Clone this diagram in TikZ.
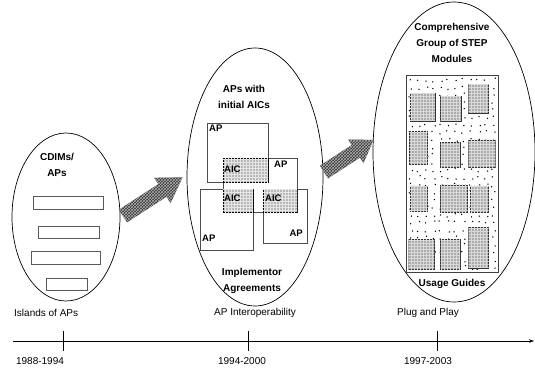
\documentclass[tikz,border=0pt]{standalone}
\usepackage{fontspec}
\setmainfont{Liberation Sans}
\usetikzlibrary{patterns,arrows.meta}
\begin{document}
\begin{tikzpicture}[x=1pt,y=-1pt,
  stage/.style={draw=black,line width=0.7pt},
  smallbox/.style={draw=black!65,line width=0.6pt},
  apbox/.style={draw=black!70,line width=0.6pt},
  aicbox/.style={draw=black,line width=0.9pt,fill=gray!55,
    postaction={pattern=grid,pattern color=gray!20}},
  module/.style={draw=black!80,line width=0.6pt,fill=gray!65,
    postaction={pattern=grid,pattern color=gray!30}},
  blockarrow/.style={fill=black!80,
    postaction={pattern=crosshatch,pattern color=gray!60}},
  title/.style={font=\bfseries\fontsize{10}{16}\selectfont,align=center,inner sep=0pt},
  tag/.style={font=\bfseries\fontsize{9.5}{10}\selectfont,inner sep=1pt},
  era/.style={font=\fontsize{10}{11}\selectfont,inner sep=0pt},
  year/.style={font=\fontsize{10}{11}\selectfont,inner sep=0pt},
  axis/.style={line width=0.6pt,-{Stealth[length=5pt,width=3.5pt]}},
  tick/.style={line width=0.6pt}]
\useasboundingbox (0,0) rectangle (535,369);

% ---- stage 1: islands of APs ----
\draw[stage] (66,217) ellipse [x radius=54pt, y radius=84pt];
\node[title] (t1) at (57,165) {CDIMs/\\APs};
\draw[smallbox] (33,196) rectangle (103,209);
\draw[smallbox] (38,226) rectangle (99,238);
\draw[smallbox] (31,251) rectangle (100,264);
\draw[smallbox] (46,278) rectangle (87,290);

% ---- stage 2: AP interoperability ----
\draw[stage] (255,177) ellipse [x radius=68pt, y radius=129pt];
\node[title] (t2) at (244,97) {APs with\\initial AICs};
\draw[apbox] (207,123) rectangle (268,182);
\draw[apbox] (223,158) rectangle (297,212);
\draw[apbox] (200,189) rectangle (253,250);
\draw[apbox] (263,189) rectangle (307,243);
\draw[aicbox] (223,158) rectangle (268,182);
\draw[aicbox] (223,189) rectangle (253,212);
\draw[aicbox] (263,189) rectangle (297,212);
\node[tag,anchor=north west] (ap1) at (208,124) {AP};
\node[tag,anchor=north west] (ap2) at (273,160) {AP};
\node[tag,anchor=south west] (ap3) at (201,243) {AP};
\node[tag,anchor=south east] (ap4) at (304,238) {AP};
\node[tag,anchor=west] (aic1) at (223,169) {AIC};
\node[tag,anchor=west] (aic2) at (223,198) {AIC};
\node[tag,anchor=west] (aic3) at (264,198) {AIC};
\node[title] (impl) at (252,281) {Implementor\\Agreements};

% ---- stage 3: plug and play ----
\draw[stage] (454,152) ellipse [x radius=81pt, y radius=150pt];
\node[title] (t3) at (452,43) {Comprehensive\\Group of STEP\\Modules};
\draw[black!75,line width=0.6pt] (406,75) rectangle (498,272);
% stippled background: one jittered dot per grid cell
\pgfmathsetseed{12}
\foreach \gx in {0,...,11}{
  \foreach \gy in {0,...,25}{
    \pgfmathsetmacro\px{409+7.5*\gx+4*rnd}
    \pgfmathsetmacro\py{78+7.5*\gy+4*rnd}
    \fill (\px,\py) circle [radius=0.75pt];
  }
}
\foreach \a/\b/\c/\d in {410.1/93.5/434.8/120.9, 440.5/96.3/460.8/120.9, 468.6/84/488.5/112.8,
  409.4/131.6/427.6/164.5, 440.5/142.7/460.1/167.4, 468.6/139.8/495.3/167.4,
  410.1/185.8/427.6/211.3, 440.5/184.9/467.5/212.5, 470/185.8/488.5/212.5,
  408.4/239.1/434.4/269.5, 440.5/239.1/460.1/269.5, 468.6/227.7/488.5/267.9}
  \draw[module] (\a,\b) rectangle (\c,\d);
\node[title] (usage) at (452,284) {Usage Guides};

% ---- block arrows between stages ----
\begin{scope}[shift={(123,216)}, rotate=33]
  \path[blockarrow] (0,-7.5) -- (47,-7.5) -- (47,-15) -- (71,0) -- (47,15) -- (47,7.5) -- (0,7.5) -- cycle;
\end{scope}
\begin{scope}[shift={(324,172)}, rotate=33]
  \path[blockarrow] (0,-7.5) -- (38,-7.5) -- (38,-14) -- (59,0) -- (38,14) -- (38,7.5) -- (0,7.5) -- cycle;
\end{scope}

% ---- timeline ----
\node[era,anchor=west] (e1) at (14,313) {Islands of APs};
\node[era] (e2) at (255,313) {AP Interoperability};
\node[era] (e3) at (428,313) {Plug and Play};
\coordinate (a0) at (13,341);
\coordinate (a1) at (534,341);
\draw[axis] (a0) -- (a1);
\foreach \x in {63,248,437}
  \draw[tick] (\x,331) -- (\x,351);
\node[year] (y1) at (40,361) {1988-1994};
\node[year] (y2) at (242,361) {1994-2000};
\node[year] (y3) at (428,361) {1997-2003};
\end{tikzpicture}
\end{document}
